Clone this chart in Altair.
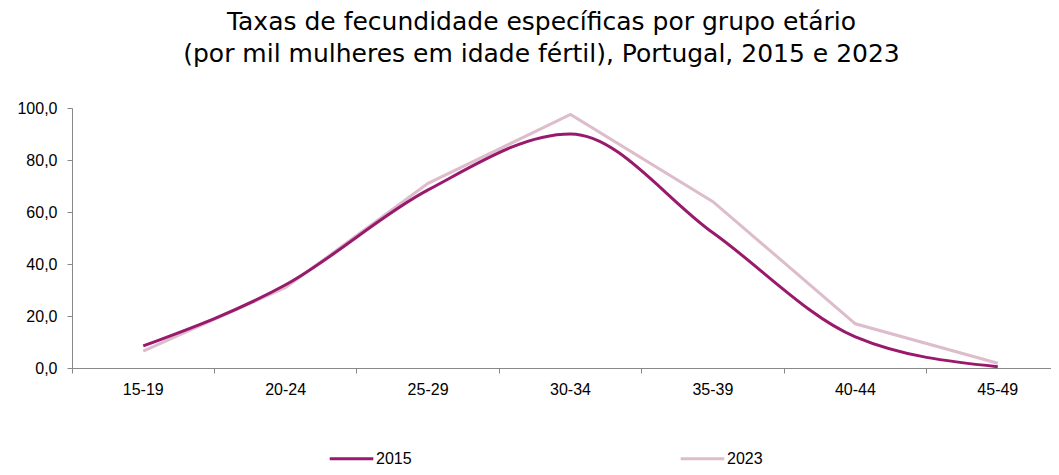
import altair as alt
import pandas as pd

groups = ["15-19", "20-24", "25-29", "30-34", "35-39", "40-44", "45-49"]
v2015 = [8.5, 32.0, 68.5, 90.0, 52.0, 12.0, 0.5]
v2023 = [6.5, 31.0, 71.0, 97.5, 64.0, 17.0, 1.8]
series = ["2015", "2023"]
colors = ["#991A6C", "#DDBCCB"]

rows = []
for g, a, b in zip(groups, v2015, v2023):
    rows.append({"grupo": g, "ano": "2015", "taxa": a})
    rows.append({"grupo": g, "ano": "2023", "taxa": b})
df = pd.DataFrame(rows)

x = alt.X("grupo:N", sort=groups, title=None,
          scale=alt.Scale(type="band", paddingInner=0, paddingOuter=0, range=[0, 997]),
          axis=alt.Axis(bandPosition=0, labelAngle=0, labelFont="Liberation Sans",
                        labelFontSize=16, labelColor="#000", labelPadding=8,
                        domainColor="#888", tickColor="#888", tickSize=5, grid=False))
y = alt.Y("taxa:Q", title=None,
          scale=alt.Scale(domain=[0, 100], nice=False),
          axis=alt.Axis(values=[0, 20, 40, 60, 80, 100],
                        labelExpr="replace(format(datum.value, '.1f'), '.', ',')",
                        labelFont="Liberation Sans", labelFontSize=16, labelColor="#000",
                        labelPadding=10, domainColor="#888", tickColor="#888",
                        tickSize=5, grid=False))
color = alt.Color("ano:N", title=None,
                  scale=alt.Scale(domain=series, range=colors),
                  legend=alt.Legend(orient="none", legendX=256, legendY=327,
                                    direction="horizontal", symbolType="stroke",
                                    symbolSize=1900, symbolStrokeWidth=3,
                                    labelFont="Liberation Sans", labelFontSize=16,
                                    labelColor="#000", columnPadding=262, labelOffset=1,
                                    padding=0))

base = alt.Chart(df).encode(x=x, y=y, color=color)
l15 = base.transform_filter(alt.datum.ano == "2015").mark_line(strokeWidth=3, interpolate="monotone")
l23 = base.transform_filter(alt.datum.ano == "2023").mark_line(strokeWidth=3)

chart = alt.layer(l23, l15).properties(
    width=979, height=260,
    title=alt.Title(text=["Taxas de fecundidade específicas por grupo etário",
                          "(por mil mulheres em idade fértil), Portugal, 2015 e 2023"],
                    font="DejaVu Sans", fontSize=25, fontWeight="normal", color="#000",
                    lineHeight=32, offset=33, dx=-20, anchor="middle"),
    autosize=alt.AutoSizeParams(type="none"),
    padding={"left": 64, "top": 100, "right": 0, "bottom": 99},
).configure_view(stroke=None)

chart.save("out.html", embed_options={"renderer": "svg", "actions": False})
